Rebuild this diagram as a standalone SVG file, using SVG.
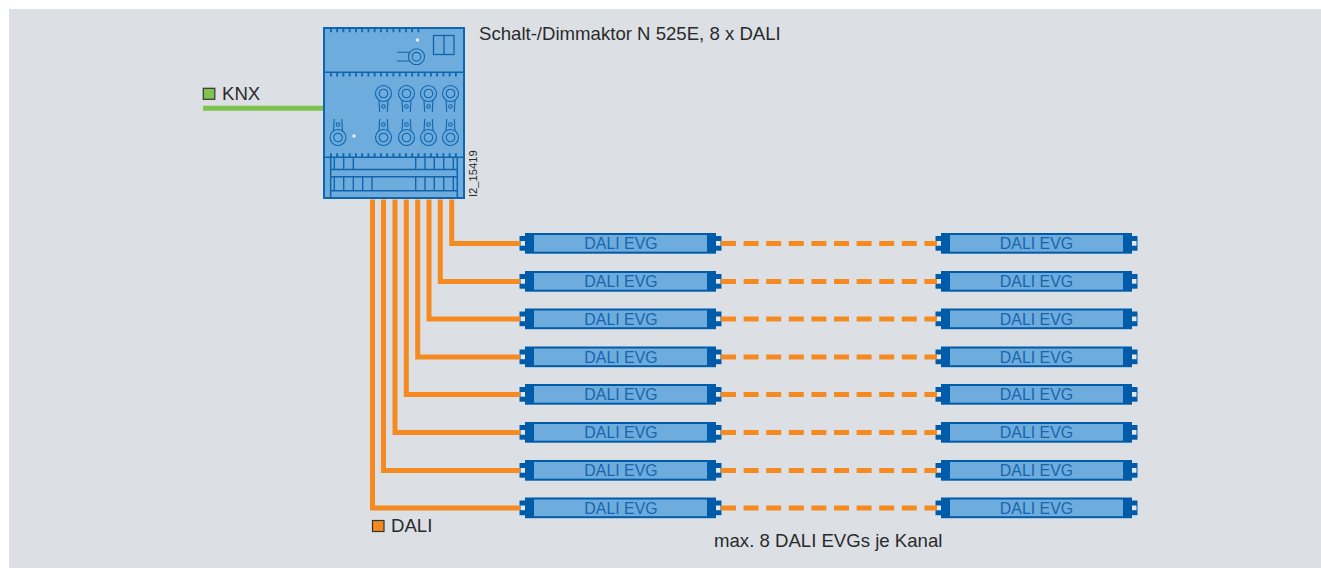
<svg xmlns="http://www.w3.org/2000/svg" width="1321" height="568" viewBox="0 0 1321 568">
<style>
text{font-family:"Liberation Sans",Arial,sans-serif;fill:#2a2a2c}
.lbl{font-size:18.6px}.small{font-size:18.6px}
.evgt{font-size:15.9px;fill:#1766ad;text-anchor:middle}
.o{fill:none;stroke:#f58a20;stroke-width:5}
.d{fill:none;stroke:#f58a20;stroke-width:5;stroke-dasharray:15 7.600}
.l{fill:none;stroke:#0f65ae;stroke-width:1.500}
.t{fill:none;stroke:#0f65ae;stroke-width:1.100}
.dev{fill:#6dacdd;stroke:#0f65ae;stroke-width:2}
</style>
<defs>
<g id="evg">
<rect x="0" y="3" width="202" height="14.700" fill="#005ca9"/>
<rect x="1" y="8" width="5" height="4.700" fill="#e4e8ec"/>
<rect x="196" y="8" width="5" height="4.700" fill="#e4e8ec"/>
<rect x="5.500" y="0" width="191" height="20.700" fill="#005ca9"/>
<rect x="14.500" y="2" width="173" height="16.700" fill="#6dacdd"/>
</g>
<g id="t1"><path class="t" d="M-4.500 6.500 L-3.800 18.500M4.500 6.500 L3.800 18.500"/><circle cx="0" cy="0" r="8" class="t"/><circle cx="0" cy="0" r="4.300" class="t"/><circle cx="0" cy="13" r="1.800" class="t"/></g>
<g id="t2"><path class="t" d="M-4.500 -6.500 L-3.800 -18.500M4.500 -6.500 L3.800 -18.500"/><circle cx="0" cy="0" r="8" class="t"/><circle cx="0" cy="0" r="4.300" class="t"/><circle cx="0" cy="-13" r="1.800" class="t"/></g>
</defs>
<rect width="1321" height="568" fill="#fff"/>
<rect x="9" y="9" width="1312" height="559" fill="#dce0e4"/>

<g id="actuator">
<rect class="dev" x="324" y="28" width="140" height="170"/>
<path class="l" d="M324 72.300H464M324 157.300H464"/>
<path fill="none" stroke="#0f65ae" stroke-width="4" stroke-dasharray="1.800 4.450" d="M330 30.300H423M330 74.500H457M330 155.200H457"/>
<rect class="t" x="433.500" y="35.500" width="20.500" height="19" style="stroke-width:1.300"/>
<path class="t" style="stroke-width:1.300" d="M444 35.500V54.500"/>
<circle cx="417.500" cy="40" r="1.800" fill="#e6f1f9"/>
<circle cx="416.500" cy="56.700" r="8" class="t"/><circle cx="416.500" cy="56.700" r="4.300" class="t"/>
<path class="t" d="M397 52.300H410M397 61H410"/>
<use href="#t1" x="383.500" y="93.500"/>
<use href="#t1" x="406.500" y="93.500"/>
<use href="#t1" x="428.500" y="93.500"/>
<use href="#t1" x="450.500" y="93.500"/>
<use href="#t2" x="338" y="137.500"/>
<use href="#t2" x="383.500" y="137.500"/>
<use href="#t2" x="406.500" y="137.500"/>
<use href="#t2" x="428.500" y="137.500"/>
<use href="#t2" x="450.500" y="137.500"/>
<circle cx="354" cy="136" r="1.800" fill="#e6f1f9"/>
<path class="l" d="M330.700 157.300V198M457.300 157.300V198M330.700 169.500H457.300M330.700 176.700H457.300M330.700 190.700H457.300"/>
<path class="t" style="stroke-width:1.400" d="M334.300 157.500V169.500M343.700 157.500V169.500M353.300 157.500V169.500M415.700 157.500V169.500M425 157.500V169.500M434.300 157.500V169.500M443.700 157.500V169.500M453.300 157.500V169.500M334.300 176.700V190.700M343.700 176.700V190.700M353.300 176.700V190.700M362.700 176.700V190.700M372 176.700V190.700M415.700 176.700V190.700M425 176.700V190.700M434.300 176.700V190.700M443.700 176.700V190.700M453.300 176.700V190.700"/>
</g>
<text class="small" x="479" y="40" id="title">Schalt-/Dimmaktor N 525E, 8 x DALI</text>
<text x="477" y="197" font-size="11.200" transform="rotate(-90 477 197)">I2_15419</text>

<g id="knx-legend"><rect x="203.300" y="88.300" width="11.500" height="11" fill="#7fc34f" stroke="#333" stroke-width="1.200"/><text class="lbl" x="222" y="100">KNX</text></g>
<g id="dali-legend"><rect x="372.500" y="520.500" width="11.500" height="11" fill="#f58a20" stroke="#333" stroke-width="1.200"/><text class="lbl" x="391" y="532">DALI</text></g>
<text class="small" x="714" y="547">max. 8 DALI EVGs je Kanal</text>

<g id="evg-1-1"><use href="#evg" x="519.500" y="233"/><text class="evgt" x="621" y="249">DALI EVG</text></g>
<g id="evg-1-2"><use href="#evg" x="935.500" y="233"/><text class="evgt" x="1036.500" y="249">DALI EVG</text></g>
<g id="evg-2-1"><use href="#evg" x="519.500" y="271"/><text class="evgt" x="621" y="287">DALI EVG</text></g>
<g id="evg-2-2"><use href="#evg" x="935.500" y="271"/><text class="evgt" x="1036.500" y="287">DALI EVG</text></g>
<g id="evg-3-1"><use href="#evg" x="519.500" y="308.500"/><text class="evgt" x="621" y="324.500">DALI EVG</text></g>
<g id="evg-3-2"><use href="#evg" x="935.500" y="308.500"/><text class="evgt" x="1036.500" y="324.500">DALI EVG</text></g>
<g id="evg-4-1"><use href="#evg" x="519.500" y="346.500"/><text class="evgt" x="621" y="362.500">DALI EVG</text></g>
<g id="evg-4-2"><use href="#evg" x="935.500" y="346.500"/><text class="evgt" x="1036.500" y="362.500">DALI EVG</text></g>
<g id="evg-5-1"><use href="#evg" x="519.500" y="384"/><text class="evgt" x="621" y="400">DALI EVG</text></g>
<g id="evg-5-2"><use href="#evg" x="935.500" y="384"/><text class="evgt" x="1036.500" y="400">DALI EVG</text></g>
<g id="evg-6-1"><use href="#evg" x="519.500" y="422"/><text class="evgt" x="621" y="438">DALI EVG</text></g>
<g id="evg-6-2"><use href="#evg" x="935.500" y="422"/><text class="evgt" x="1036.500" y="438">DALI EVG</text></g>
<g id="evg-7-1"><use href="#evg" x="519.500" y="460"/><text class="evgt" x="621" y="476">DALI EVG</text></g>
<g id="evg-7-2"><use href="#evg" x="935.500" y="460"/><text class="evgt" x="1036.500" y="476">DALI EVG</text></g>
<g id="evg-8-1"><use href="#evg" x="519.500" y="497.500"/><text class="evgt" x="621" y="513.500">DALI EVG</text></g>
<g id="evg-8-2"><use href="#evg" x="935.500" y="497.500"/><text class="evgt" x="1036.500" y="513.500">DALI EVG</text></g>

<g id="connectors">
<path d="M203 108.200H323" fill="none" stroke="#7fc34f" stroke-width="5"/>
<path class="o" d="M451.700 199.500V243.500H520"/>
<path class="o" d="M440.300 199.500V281.500H520"/>
<path class="o" d="M429 199.500V319H520"/>
<path class="o" d="M417.700 199.500V357H520"/>
<path class="o" d="M406.300 199.500V394.500H520"/>
<path class="o" d="M395 199.500V432.500H520"/>
<path class="o" d="M383.500 199.500V470.500H520"/>
<path class="o" d="M372.500 199.500V508H520"/>
<path class="d" d="M721 243.500H937"/>
<path class="d" d="M721 281.500H937"/>
<path class="d" d="M721 319H937"/>
<path class="d" d="M721 357H937"/>
<path class="d" d="M721 394.500H937"/>
<path class="d" d="M721 432.500H937"/>
<path class="d" d="M721 470.500H937"/>
<path class="d" d="M721 508H937"/>
</g>
</svg>
